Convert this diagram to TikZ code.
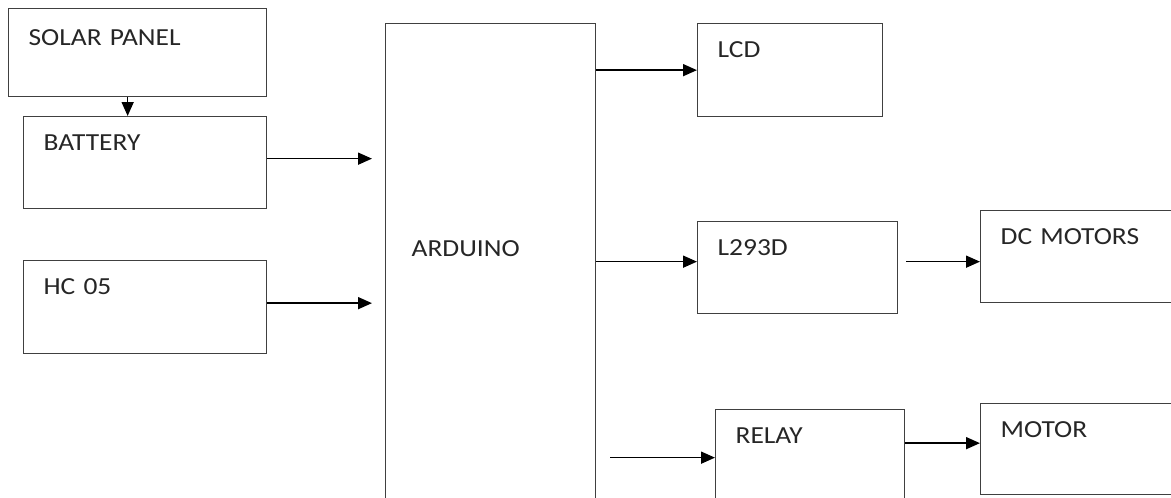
\documentclass[tikz,border=0pt]{standalone}
\usepackage{fontspec}
\setmainfont{Carlito}[FakeStretch=1.12]
\usetikzlibrary{arrows.meta}
\definecolor{boxgray}{RGB}{64, 64, 64}
\definecolor{txtgray}{RGB}{38, 38, 38}

\tikzset{
  blk/.style={draw=boxgray, line width=1.3pt, anchor=north west, align=left,
    inner xsep=20pt, inner ysep=18pt, text height=16pt, text=txtgray,
    font=\fontsize{24.5}{28}\selectfont},
  arr/.style={draw=black, line width=1.6pt, -{Triangle[length=14pt, width=12pt]}}
}

\begin{document}
\begin{tikzpicture}[x=1pt, y=-1pt]
  \useasboundingbox (0,0) rectangle (1171,498);
  \clip (0,0) rectangle (1171,498);

  % --- input side ---
  \node[blk, text width=218pt, text height=19pt, text depth=33pt] (solar) at (8,8) {SOLAR PANEL};
  \node[blk, text width=203pt, text depth=40pt] (batt) at (23,116) {BATTERY};
  \node[blk, text width=203pt, text depth=41pt] (hc) at (23,260) {HC 05};

  % --- controller ---
  \node[blk, inner xsep=26pt, text width=158pt, text height=215pt, text depth=246pt] (ard) at (385,23) {ARDUINO};

  % --- output side ---
  \node[blk, text width=145pt, text depth=41pt] (lcd) at (697,23) {LCD};
  \node[blk, text width=160pt, text depth=40pt] (drv) at (697,221) {L293D};
  \node[blk, text width=180pt, text depth=40pt] (dcm) at (980,210) {DC MOTORS};
  \node[blk, text width=149pt, text depth=44pt] (relay) at (715,409) {RELAY};
  \node[blk, text width=180pt, text depth=39pt] (motor) at (980,403) {MOTOR};

  % --- connections ---
  \draw[arr] ([xshift=-10pt]solar.south) -- ([xshift=-10pt]solar.south |- batt.north);
  \draw[arr, shorten >=13pt] ([yshift=4pt]batt.east) -- ([yshift=4pt]batt.east -| ard.west);
  \draw[arr, shorten >=13pt] ([yshift=4pt]hc.east) -- ([yshift=4pt]hc.east -| ard.west);
  \draw[arr] (lcd.west -| ard.east) -- (lcd.west);
  \draw[arr] ([yshift=6pt]drv.west -| ard.east) -- ([yshift=6pt]drv.west);
  \draw[arr, shorten <=14pt] (relay.west -| ard.east) -- (relay.west);
  \draw[arr, shorten <=8pt] ([yshift=-5pt]dcm.west -| drv.east) -- ([yshift=-5pt]dcm.west);
  \draw[arr] ([yshift=6pt]motor.west -| relay.east) -- ([yshift=6pt]motor.west);
\end{tikzpicture}
\end{document}
